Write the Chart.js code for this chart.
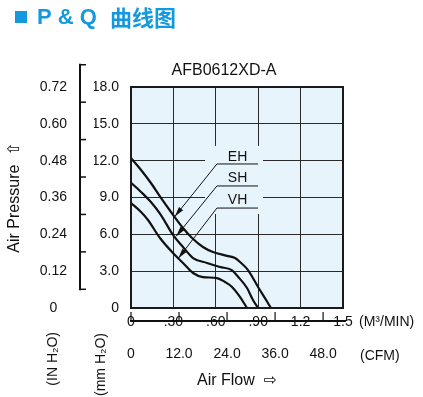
<!DOCTYPE html>
<html><head><meta charset="utf-8">
<script src="https://cdn.jsdelivr.net/npm/chart.js@4.4.1/dist/chart.umd.min.js"></script>
<style>html,body{margin:0;padding:0;background:#fff}</style>
</head><body>
<canvas id="c" width="423" height="397"></canvas>
<script>
// ---- data ----
const chartTitle = 'P & Q';
const chartTitleCn = '曲线图';
const modelName = 'AFB0612XD-A';
const seriesNames = ['EH', 'SH', 'VH'];
const ehFlow = [0, 0.071, 0.141, 0.212, 0.283, 0.368, 0.432, 0.509, 0.580, 0.679, 0.736, 0.771, 0.828, 0.899, 0.969, 0.99];
const ehPressure = [12.2, 11.24, 10.18, 8.96, 7.82, 6.52, 5.70, 4.97, 4.56, 4.25, 4.07, 3.75, 3.09, 1.71, 0.41, 0];
const shFlow = [0, 0.071, 0.141, 0.212, 0.297, 0.368, 0.439, 0.538, 0.630, 0.710, 0.757, 0.821, 0.863, 0.899];
const shPressure = [10.2, 9.45, 8.63, 7.57, 5.95, 4.97, 4.07, 3.67, 3.34, 3.10, 2.55, 1.63, 0.65, 0];
const vhFlow = [0, 0.071, 0.120, 0.205, 0.297, 0.368, 0.439, 0.509, 0.608, 0.665, 0.715, 0.771, 0.821];
const vhPressure = [8.55, 7.82, 7.17, 5.70, 4.48, 3.67, 2.85, 2.52, 2.44, 2.12, 1.71, 0.90, 0];

const m3Ticks = [0, 0.3, 0.6, 0.9, 1.2, 1.5];
const m3Labels = ['0', '.30', '.60', '.90', '1.2', '1.5'];
const cfmTicks = [0, 12, 24, 36, 48];
const cfmLabels = ['0', '12.0', '24.0', '36.0', '48.0'];
const cfmMax = 52.97; // 1.5 m3/min in CFM
const mmTicks = [0, 3, 6, 9, 12, 15, 18];
const mmLabels = ['0', '3.0', '6.0', '9.0', '12.0', '15.0', '18.0'];
const inTicks = [0, 0.12, 0.24, 0.36, 0.48, 0.60, 0.72];
const inLabels = ['0', '0.12', '0.24', '0.36', '0.48', '0.60', '0.72'];
const bracketIn = [0.06, 0.18, 0.30, 0.42, 0.54, 0.66, 0.78];
const mmPerIn = 25.4;

// curve label annotations (flow, pressure in mm H2O)
const labelFlow = 0.754;
const labelPressure = [12.3, 10.6, 8.8];
const underlineFlow = [0.608, 0.899];
const underlinePressure = [11.73, 9.94, 8.14];
const tipFlow = [0.31, 0.32, 0.335];
const tipPressure = [7.45, 5.85, 4.05];
const knockFlow = [0.524, 0.934];
const knockPressure = [7.66, 13.2];

// ---- styling ----
const INK = '#111';
const BG = '#e8f4fc';
const BLUE = '#1499df';
const FAM = "'Liberation Sans', Arial, 'DejaVu Sans', 'Noto Sans CJK SC', sans-serif";

function curve(name, xs, ys) {
  return { label: name, data: xs.map((x, i) => ({ x, y: ys[i] })), borderColor: INK, borderWidth: 2.2,
    pointRadius: 0, cubicInterpolationMode: 'monotone', fill: false };
}
function leader(i) {
  return { label: seriesNames[i] + ' leader',
    data: [{ x: underlineFlow[1], y: underlinePressure[i] }, { x: underlineFlow[0], y: underlinePressure[i] }, { x: tipFlow[i], y: tipPressure[i] }],
    borderColor: INK, borderWidth: 1, pointRadius: 0, tension: 0, fill: false };
}
function fixedTicks(arr) { return s => { s.ticks = arr.map(v => ({ value: v })); }; }

const deco = {
  id: 'deco',
  beforeDraw(chart) {
    const { ctx, chartArea: a } = chart;
    ctx.save(); ctx.fillStyle = BG; ctx.fillRect(a.left, a.top, a.right - a.left, a.bottom - a.top); ctx.restore();
  },
  beforeDatasetsDraw(chart) {
    const { ctx, scales: { x, y } } = chart;
    const l = x.getPixelForValue(knockFlow[0]), r = x.getPixelForValue(knockFlow[1]);
    const t = y.getPixelForValue(knockPressure[1]), b = y.getPixelForValue(knockPressure[0]);
    ctx.save(); ctx.fillStyle = BG; ctx.fillRect(l, t, r - l, b - t); ctx.restore();
  },
  afterDraw(chart) {
    const { ctx, chartArea: a, scales } = chart;
    const x = scales.x, y = scales.y, xc = scales.xCfm, yi = scales.yIn;
    ctx.save();
    // frame
    ctx.strokeStyle = '#1a1a1a'; ctx.lineWidth = 2;
    ctx.strokeRect(a.left, a.top, a.right - a.left, a.bottom - a.top);
    // arrowheads
    ctx.fillStyle = INK;
    for (let i = 0; i < 3; i++) {
      const sx = x.getPixelForValue(underlineFlow[0]), sy = y.getPixelForValue(underlinePressure[i]);
      const tx = x.getPixelForValue(tipFlow[i]), ty = y.getPixelForValue(tipPressure[i]);
      const ang = Math.atan2(ty - sy, tx - sx);
      const L = 10, W = 2.6;
      const bx = tx - L * Math.cos(ang), by = ty - L * Math.sin(ang);
      ctx.beginPath();
      ctx.moveTo(tx, ty);
      ctx.lineTo(bx + W * Math.sin(ang), by - W * Math.cos(ang));
      ctx.lineTo(bx - W * Math.sin(ang), by + W * Math.cos(ang));
      ctx.closePath(); ctx.fill();
    }
    // curve labels
    ctx.font = '14px ' + FAM; ctx.textAlign = 'center'; ctx.textBaseline = 'middle'; ctx.fillStyle = INK;
    seriesNames.forEach((n, i) => ctx.fillText(n, x.getPixelForValue(labelFlow), y.getPixelForValue(labelPressure[i])));
    // pressure bracket (inch scale)
    const bxp = yi.right - 14;
    ctx.strokeStyle = INK; ctx.lineWidth = 2;
    const yTop = y.getPixelForValue(bracketIn[bracketIn.length - 1] * mmPerIn);
    const yBot = y.getPixelForValue(bracketIn[0] * mmPerIn);
    ctx.beginPath(); ctx.moveTo(bxp, yTop - 1); ctx.lineTo(bxp, yBot + 1); ctx.stroke();
    ctx.lineWidth = 1.5;
    bracketIn.forEach(v => { const py = y.getPixelForValue(v * mmPerIn); ctx.beginPath(); ctx.moveTo(bxp, py); ctx.lineTo(bxp + 6, py); ctx.stroke(); });
    // flow axis line with CFM ticks
    const ly = x.top + 13;
    ctx.lineWidth = 2;
    ctx.beginPath(); ctx.moveTo(a.left - 1, ly); ctx.lineTo(a.right + 3, ly); ctx.stroke();
    ctx.lineWidth = 1.2;
    cfmTicks.forEach(v => { const px = xc.getPixelForValue(v); ctx.beginPath(); ctx.moveTo(px, ly - 9); ctx.lineTo(px, ly); ctx.stroke(); });
    // unit labels
    ctx.font = '14px ' + FAM; ctx.textAlign = 'left'; ctx.textBaseline = 'middle';
    ctx.fillText('(M³/MIN)', a.right + 16, x.top + 14.4);
    ctx.fillText('(CFM)', a.right + 17, xc.top + 26.4);
    // rotated pressure units
    const rot = (txt, px, py) => { ctx.save(); ctx.translate(px, py); ctx.rotate(-Math.PI / 2); ctx.textAlign = 'right'; ctx.textBaseline = 'middle'; ctx.fillText(txt, 0, 0); ctx.restore(); };
    rot('(IN H₂O)', yi.right - 41, a.bottom + 24);
    rot('(mm H₂O)', y.right - 30, a.bottom + 25);
    // model name
    ctx.font = '16px ' + FAM; ctx.textAlign = 'center'; ctx.textBaseline = 'middle';
    ctx.fillText(modelName, (a.left + a.right) / 2 - 13, a.top - 16);
    // main title
    ctx.fillStyle = BLUE;
    ctx.fillRect(15, 11, 12, 12);
    ctx.font = 'bold 22px ' + FAM; ctx.textAlign = 'left';
    ctx.fillText(chartTitle, 37, 18);
    ctx.font = 'bold 22px ' + "'Noto Sans CJK SC', " + FAM;
    ctx.fillText(chartTitleCn, 110, 18);
    ctx.restore();
  }
};

new Chart(document.getElementById('c'), {
  type: 'line',
  data: { datasets: [
    curve(seriesNames[0], ehFlow, ehPressure),
    curve(seriesNames[1], shFlow, shPressure),
    curve(seriesNames[2], vhFlow, vhPressure),
    leader(0), leader(1), leader(2)
  ] },
  options: {
    responsive: false, animation: false, devicePixelRatio: 1,
    layout: { padding: { top: 87, right: 80, bottom: 0, left: 0 } },
    plugins: { legend: { display: false }, tooltip: { enabled: false }, title: { display: false } },
    scales: {
      x: { type: 'linear', position: 'bottom', weight: 0, min: 0, max: 1.5,
        afterBuildTicks: fixedTicks(m3Ticks), afterFit: s => { s.height = 22; },
        grid: { color: '#2a2a2a', lineWidth: 1, drawTicks: false },
        border: { display: false },
        ticks: { padding: 6, color: INK, font: { family: FAM, size: 14 }, maxRotation: 0, autoSkip: false,
          callback: (v, i) => m3Labels[i] } },
      xCfm: { type: 'linear', position: 'bottom', weight: 1, min: 0, max: cfmMax,
        afterBuildTicks: fixedTicks(cfmTicks), afterFit: s => { s.height = 67; },
        grid: { display: false, drawTicks: false }, border: { display: false },
        ticks: { padding: 16, color: INK, font: { family: FAM, size: 14 }, maxRotation: 0, autoSkip: false,
          callback: (v, i) => cfmLabels[i] },
        title: { display: true, text: 'Air Flow  ⇨', color: INK, font: { family: FAM, size: 16 }, padding: { top: 0, bottom: 7 } } },
      y: { type: 'linear', position: 'left', weight: 0, min: 0, max: 18,
        afterBuildTicks: fixedTicks(mmTicks), afterFit: s => { s.width = 37; },
        grid: { color: '#2a2a2a', lineWidth: 1, drawTicks: false }, border: { display: false },
        ticks: { padding: 12, color: INK, font: { family: FAM, size: 14 }, autoSkip: false,
          callback: (v, i) => mmLabels[i] } },
      yIn: { type: 'linear', position: 'left', weight: 1, min: 0, max: 0.72,
        afterBuildTicks: fixedTicks(inTicks), afterFit: s => { s.width = 94; },
        grid: { display: false, drawTicks: false }, border: { display: false },
        ticks: { padding: 27, crossAlign: 'center', color: INK, font: { family: FAM, size: 14 }, autoSkip: false,
          callback: (v, i) => inLabels[i] },
        title: { display: true, text: 'Air Pressure  ⇧', color: INK, font: { family: FAM, size: 16 }, padding: { top: 5, bottom: 0 } } }
    }
  },
  plugins: [deco]
});
</script>
</body></html>
